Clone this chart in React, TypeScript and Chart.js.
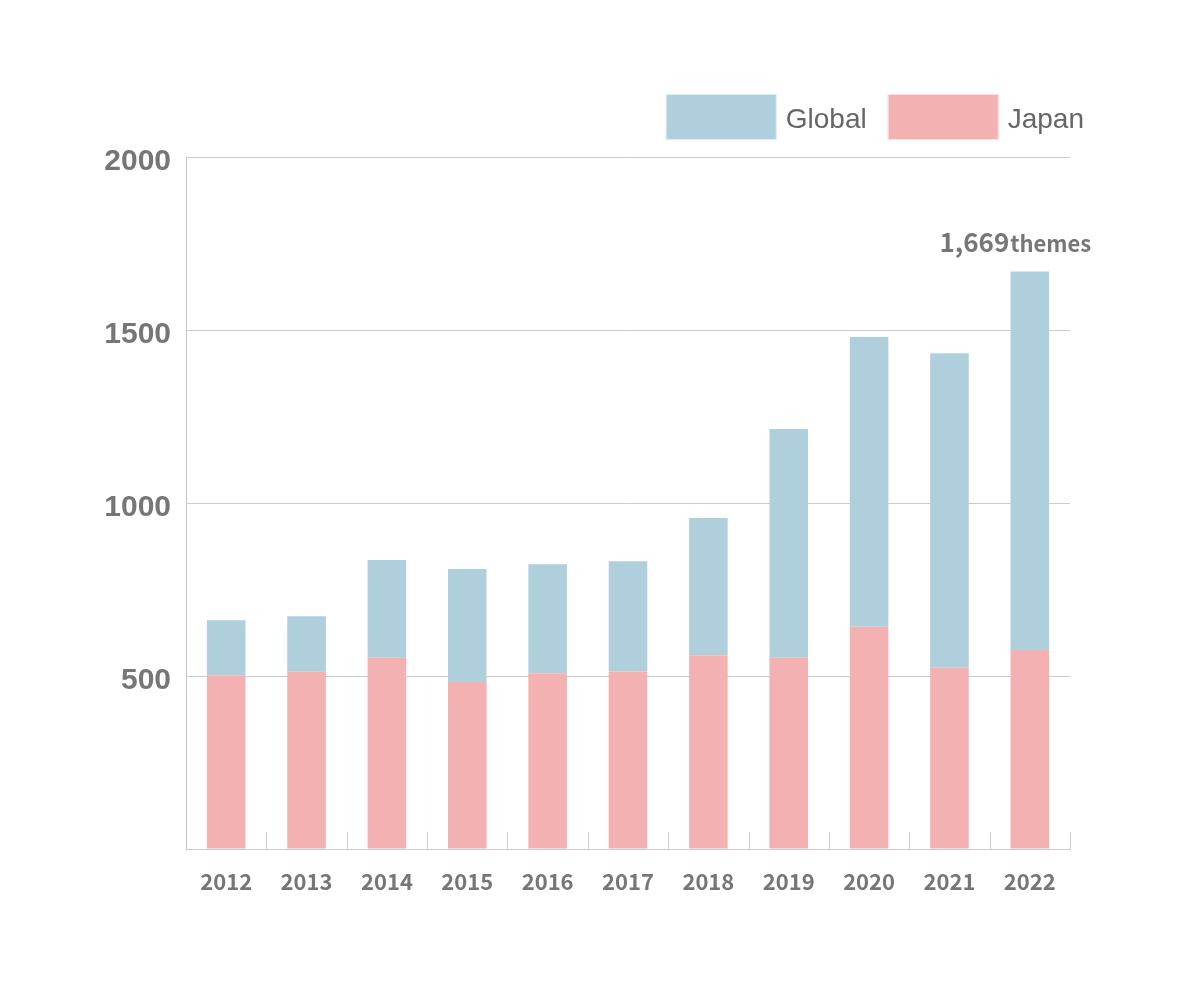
import React, { useEffect, useRef } from "react";
import { Chart, registerables } from "chart.js";

Chart.register(...registerables);

const years = ["2012", "2013", "2014", "2015", "2016", "2017", "2018", "2019", "2020", "2021", "2022"];
const japan = [502, 512, 553, 483, 508, 513, 560, 553, 642, 524, 575];
const globalVals = [159, 161, 282, 326, 315, 319, 397, 661, 838, 909, 1094];
const yTicks = [500, 1000, 1500, 2000];
const legendItems = [
  { label: "Global", color: "#b0cfdc" },
  { label: "Japan", color: "#f4b1b2" },
];
const annotationSuffix = "themes";

const GRAY = "#767676";

const innerTicksPlugin = {
  id: "innerTicks",
  afterDatasetsDraw(chart: any) {
    const { ctx, chartArea } = chart;
    const x = chart.scales.x;
    ctx.save();
    ctx.strokeStyle = "#cccccc";
    ctx.lineWidth = 1;
    const n = years.length;
    const step = x.getPixelForValue(1) - x.getPixelForValue(0);
    for (let i = 1; i <= n; i++) {
      const px = x.getPixelForValue(i - 1) + step / 2;
      const xx = Math.round(px) + 0.5;
      ctx.beginPath();
      ctx.moveTo(xx, chartArea.bottom);
      ctx.lineTo(xx, chartArea.bottom - 17);
      ctx.stroke();
    }
    ctx.restore();
  },
};

const legendPlugin = {
  id: "customLegend",
  afterDraw(chart: any) {
    const { ctx, chartArea } = chart;
    ctx.save();
    ctx.font = "28px 'Liberation Sans', Arial, sans-serif";
    const boxW = 111;
    const boxH = 46;
    const gapText = 9;
    const gapItem = 21;
    let total = 0;
    legendItems.forEach((it, i) => {
      total += boxW + gapText + ctx.measureText(it.label).width + (i > 0 ? gapItem : 0);
    });
    let x = chartArea.right + 14 - total;
    const top = chartArea.top - 63;
    legendItems.forEach((it) => {
      ctx.fillStyle = it.color;
      ctx.fillRect(x, top, boxW, boxH);
      ctx.strokeStyle = "rgba(255,255,255,0.6)";
      ctx.lineWidth = 1;
      ctx.strokeRect(x + 0.5, top + 0.5, boxW - 1, boxH - 1);
      x += boxW + gapText;
      ctx.fillStyle = "#666666";
      ctx.textBaseline = "middle";
      ctx.textAlign = "left";
      ctx.fillText(it.label, x, top + boxH / 2 + 3);
      x += ctx.measureText(it.label).width + gapItem;
    });
    ctx.restore();
  },
};

const annotationPlugin = {
  id: "totalAnnotation",
  afterDatasetsDraw(chart: any) {
    const { ctx } = chart;
    const last = years.length - 1;
    const meta = chart.getDatasetMeta(1);
    const bar = meta.data[last];
    if (!bar) return;
    const total = japan[last] + globalVals[last];
    const num = total.toLocaleString("en-US");
    ctx.save();
    ctx.fillStyle = GRAY;
    ctx.textBaseline = "alphabetic";
    ctx.textAlign = "left";
    const f1 = "bold 26px 'Noto Sans CJK JP', sans-serif";
    const f2 = "bold 22px 'Noto Sans CJK JP', sans-serif";
    ctx.font = f1;
    const w1 = ctx.measureText(num).width;
    ctx.font = f2;
    const w2 = ctx.measureText(annotationSuffix).width;
    const cx = bar.x - 15;
    const startX = cx - (w1 + w2) / 2;
    const baseY = bar.y - 20;
    ctx.font = f1;
    ctx.fillText(num, startX, baseY);
    ctx.font = f2;
    ctx.fillText(annotationSuffix, startX + w1 + 1, baseY);
    ctx.restore();
  },
};

export default function App() {
  const ref = useRef<HTMLCanvasElement | null>(null);
  useEffect(() => {
    document.body.style.margin = "0";
    if (!ref.current) return;
    const chart = new Chart(ref.current, {
      type: "bar",
      data: {
        labels: years,
        datasets: [
          {
            label: "Japan",
            data: japan,
            backgroundColor: legendItems[1].color,
            borderWidth: 0,
            barPercentage: 0.48,
            categoryPercentage: 1,
          },
          {
            label: "Global",
            data: globalVals,
            backgroundColor: legendItems[0].color,
            borderWidth: 0,
            barPercentage: 0.48,
            categoryPercentage: 1,
          },
        ],
      },
      options: {
        animation: false,
        responsive: false,
        devicePixelRatio: 1,
        layout: { padding: { left: 0, right: 130, top: 157, bottom: 0 } },
        plugins: {
          legend: { display: false },
          tooltip: { enabled: false },
        },
        scales: {
          x: {
            stacked: true,
            grid: { display: false, drawTicks: false },
            border: { display: true, color: "#cccccc", width: 1 },
            ticks: {
              color: GRAY,
              padding: 19,
              font: { family: "'Noto Sans CJK JP', sans-serif", size: 22, weight: "bold" },
            },
            afterFit: (s: any) => {
              s.height = 140;
            },
          },
          y: {
            stacked: true,
            min: 0,
            max: 2000,
            afterBuildTicks: (s: any) => {
              s.ticks = [0, ...yTicks].map((v) => ({ value: v }));
            },
            grid: { color: "#cccccc", lineWidth: 1, drawTicks: false },
            border: { display: true, color: "#c4c4c4", width: 1 },
            ticks: {
              color: GRAY,
              padding: 15,
              labelOffset: 5,
              font: { family: "'Liberation Sans', Arial, sans-serif", size: 30, weight: "bold" },
              callback: (v: any) => (v === 0 ? "" : String(v)),
            },
            afterFit: (s: any) => {
              s.width = 186;
            },
          },
        },
      },
      plugins: [innerTicksPlugin, legendPlugin, annotationPlugin],
    });
    return () => chart.destroy();
  }, []);
  return (
    <div style={{ width: 1200, height: 989, background: "#fff" }}>
      <canvas ref={ref} width={1200} height={989} style={{ display: "block" }} />
    </div>
  );
}
